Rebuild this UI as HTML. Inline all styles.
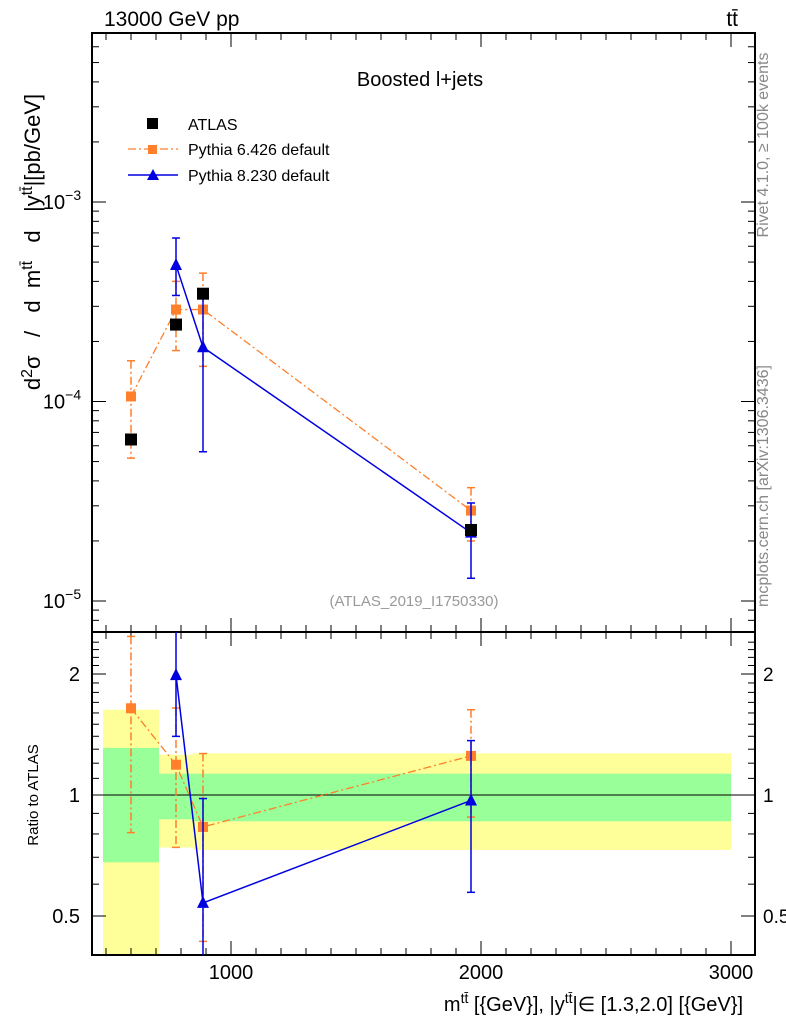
<!DOCTYPE html>
<html><head><meta charset="utf-8"><style>
body{margin:0;background:#fff;font-family:"Liberation Sans",sans-serif}
svg text{font-family:"Liberation Sans",sans-serif}
</style></head><body>
<svg id="c" width="786" height="1024" xmlns="http://www.w3.org/2000/svg"></svg>
<script>
const xs=[600,780,888,1960];
const atlas=[6.45e-5,2.43e-4,3.47e-4,2.27e-5];
const p6=[1.06e-4,2.89e-4,2.89e-4,2.84e-5];
const p6Up=[1.6e-4,4.0e-4,4.4e-4,3.7e-5];
const p6Dn=[5.2e-5,1.8e-4,1.5e-4,2.0e-5];
const p8X=[780,888,1960];
const p8=[4.83e-4,1.87e-4,2.2e-5];
const p8Up=[6.6e-4,3.4e-4,3.1e-5];
const p8Dn=[3.4e-4,5.6e-5,1.3e-5];
const p8Atlas=[2.43e-4,3.47e-4,2.27e-5];
const binEdges=[488,712,848,3000];
const yelLo=[0.3,0.74,0.73];
const yelHi=[1.63,1.26,1.27];
const grnLo=[0.68,0.87,0.86];
const grnHi=[1.31,1.13,1.13];
const xTicks=[1000,2000,3000];
const yTicks=[-5,-4,-3];
const rTicks=[0.5,1,2];

const S=document.getElementById('c');const NS='http://www.w3.org/2000/svg';
function el(t,a,txt){const e=document.createElementNS(NS,t);for(const k in a)e.setAttribute(k,a[k]);if(txt!==undefined)e.textContent=txt;S.appendChild(e);return e;}
const L=92,R=755,T=33,M=632,B=955;
const X=v=>231+(v-1000)*0.25;
const Y=v=>202-(Math.log10(v)+3)*199.5;
const RY=v=>795-Math.log2(v)*121;
const clipR=v=>Math.min(B,Math.max(M,v));
for(let i=0;i<3;i++){
 let e=el('rect',{x:X(binEdges[i]),y:RY(yelHi[i]),width:X(binEdges[i+1])-X(binEdges[i]),height:Math.min(B,RY(yelLo[i]))-RY(yelHi[i]),fill:'#ffff99'});
 
 e=el('rect',{x:X(binEdges[i]),y:RY(grnHi[i]),width:X(binEdges[i+1])-X(binEdges[i]),height:RY(grnLo[i])-RY(grnHi[i]),fill:'#99ff99'});
 
}
el('line',{x1:L,x2:R,y1:RY(1),y2:RY(1),stroke:'#000','stroke-width':1});
el('rect',{x:L,y:T,width:R-L,height:M-T,fill:'none',stroke:'#000','stroke-width':2,});
el('rect',{x:L,y:M,width:R-L,height:B-M,fill:'none',stroke:'#000','stroke-width':2,});
for(let v=500;v<=3000;v+=100){const big=v%1000==0;const h=big?14:7;const x=X(v);
 for(const [y0,d] of [[T,1],[M,-1],[M,1],[B,-1]]) el('line',{x1:x,x2:x,y1:y0,y2:y0+d*h,stroke:'#000','stroke-width':1});}
xTicks.forEach(v=>{const e=el('text',{x:X(v),y:979,'font-size':20,'text-anchor':'middle'},String(v));});
for(let d=-6;d<=-2;d++)for(let m=1;m<10;m++){const v=m*Math.pow(10,d);const y=Y(v);if(y<T||y>M)continue;const h=m==1?14:7;
 el('line',{x1:L,x2:L+h,y1:y,y2:y,stroke:'#000'});el('line',{x1:R,x2:R-h,y1:y,y2:y,stroke:'#000'});}
yTicks.forEach(d=>{const y=Y(Math.pow(10,d));const e=el('text',{x:62,y:y+7,'font-size':20,'text-anchor':'middle'});e.innerHTML='10<tspan dy="-9" font-size="14">'+(d<0?'−':'')+Math.abs(d)+'</tspan>';});
for(let v=0.4;v<=2.5;v+=0.1){const y=RY(v);if(y<M||y>B)continue;const big=[0.5,1,2].some(t=>Math.abs(t-v)<1e-6);const h=big?14:7;
 el('line',{x1:L,x2:L+h,y1:y,y2:y,stroke:'#000'});el('line',{x1:R,x2:R-h,y1:y,y2:y,stroke:'#000'});}
rTicks.forEach(v=>{const y=RY(v)+7;let e=el('text',{x:80,y:y,'font-size':20,'text-anchor':'end'},String(v));
 e=el('text',{x:763,y:y,'font-size':19},String(v));});
const orange='#ff7f2a',blue='#0000e0';
function errbar(x,y1,y2,col,dash){el('line',{x1:x,x2:x,y1:y1,y2:y2,stroke:col,'stroke-width':1.5,'stroke-dasharray':dash||''});
 if(y1>M+1)el('line',{x1:x-4,x2:x+4,y1:y1,y2:y1,stroke:col,'stroke-width':1.5});if(y2<B-1)el('line',{x1:x-4,x2:x+4,y1:y2,y2:y2,stroke:col,'stroke-width':1.5});}
function errbarMain(x,y1,y2,col,dash){el('line',{x1:x,x2:x,y1:y1,y2:y2,stroke:col,'stroke-width':1.5,'stroke-dasharray':dash||''});
 el('line',{x1:x-4,x2:x+4,y1:y1,y2:y1,stroke:col,'stroke-width':1.5});el('line',{x1:x-4,x2:x+4,y1:y2,y2:y2,stroke:col,'stroke-width':1.5});}
const dash='8,3,2,3';
el('polyline',{points:xs.map((x,i)=>X(x)+','+Y(p6[i])).join(' '),fill:'none',stroke:orange,'stroke-width':1.3,'stroke-dasharray':dash,});
xs.forEach((x,i)=>{errbarMain(X(x),Y(p6Up[i]),Y(p6Dn[i]),orange,dash);const e=el('rect',{x:X(x)-5,y:Y(p6[i])-5,width:10,height:10,fill:orange});});
el('polyline',{points:p8X.map((x,i)=>X(x)+','+Y(p8[i])).join(' '),fill:'none',stroke:blue,'stroke-width':1.5,});
p8X.forEach((x,i)=>{errbarMain(X(x),Y(p8Up[i]),Y(p8Dn[i]),blue);const cx=X(x),cy=Y(p8[i]);const e=el('polygon',{points:`${cx-6},${cy+5} ${cx+6},${cy+5} ${cx},${cy-7}`,fill:blue});});
xs.forEach((x,i)=>{const e=el('rect',{x:X(x)-6,y:Y(atlas[i])-6,width:12,height:12,fill:'#000'});});
el('polyline',{points:xs.map((x,i)=>X(x)+','+RY(p6[i]/atlas[i])).join(' '),fill:'none',stroke:orange,'stroke-width':1.3,'stroke-dasharray':dash});
xs.forEach((x,i)=>{errbar(X(x),clipR(RY(p6Up[i]/atlas[i])),clipR(RY(p6Dn[i]/atlas[i])),orange,dash);const e=el('rect',{x:X(x)-5,y:RY(p6[i]/atlas[i])-5,width:10,height:10,fill:orange});});
el('polyline',{points:p8X.map((x,i)=>X(x)+','+RY(p8[i]/p8Atlas[i])).join(' '),fill:'none',stroke:blue,'stroke-width':1.5});
p8X.forEach((x,i)=>{errbar(X(x),clipR(RY(p8Up[i]/p8Atlas[i])),clipR(RY(p8Dn[i]/p8Atlas[i])),blue);const cx=X(x),cy=RY(p8[i]/p8Atlas[i]);const e=el('polygon',{points:`${cx-6},${cy+5} ${cx+6},${cy+5} ${cx},${cy-7}`,fill:blue});});
el('text',{x:104,y:26,'font-size':21,},'13000 GeV pp');
el('text',{x:738,y:26,'font-size':21,'text-anchor':'end',},'tt̄');
el('text',{x:420,y:86,'font-size':20,'text-anchor':'middle',},'Boosted l+jets');
el('text',{x:414,y:606,'font-size':15,'text-anchor':'middle',fill:'#999',},'(ATLAS_2019_I1750330)');
el('rect',{x:147,y:118,width:11,height:11,fill:'#000'});
el('text',{x:188,y:130,'font-size':16,},'ATLAS');
el('line',{x1:128,x2:178,y1:149,y2:149,stroke:orange,'stroke-dasharray':dash,'stroke-width':1.3});
el('rect',{x:148,y:145,width:9,height:9,fill:orange});
el('text',{x:188,y:155,'font-size':16,},'Pythia 6.426 default');
el('line',{x1:128,x2:178,y1:175,y2:175,stroke:blue,'stroke-width':1.5});
el('polygon',{points:'147,180 159,180 153,169',fill:blue});
el('text',{x:188,y:181,'font-size':16,},'Pythia 8.230 default');
let yt=el('text',{transform:'translate(40,242) rotate(-90)','font-size':22,'text-anchor':'middle',style:'white-space:pre',});
yt.innerHTML='d<tspan dy="-8" font-size="16">2</tspan><tspan dy="8">σ   /   d  m</tspan><tspan dy="-8" font-size="16">tt̄</tspan><tspan dy="8">   d   |y</tspan><tspan dy="-8" font-size="16">tt̄</tspan><tspan dy="8">|[pb/GeV]</tspan>';
el('text',{transform:'translate(38,795) rotate(-90)','font-size':15,'text-anchor':'middle',},'Ratio to ATLAS');
let xt=el('text',{x:743,y:1011,'font-size':20,'text-anchor':'end',});
xt.innerHTML='m<tspan dy="-8" font-size="14">tt̄</tspan><tspan dy="8"> [{GeV}], |y</tspan><tspan dy="-8" font-size="14">tt̄</tspan><tspan dy="8">|∈ [1.3,2.0] [{GeV}]</tspan>';
el('text',{transform:'translate(768,145) rotate(-90)','font-size':16,'text-anchor':'middle',fill:'#888',},'Rivet 4.1.0, ≥ 100k events');
el('text',{transform:'translate(768,486) rotate(-90)','font-size':16,'text-anchor':'middle',fill:'#888',},'mcplots.cern.ch [arXiv:1306.3436]');
</script>
</body></html>
